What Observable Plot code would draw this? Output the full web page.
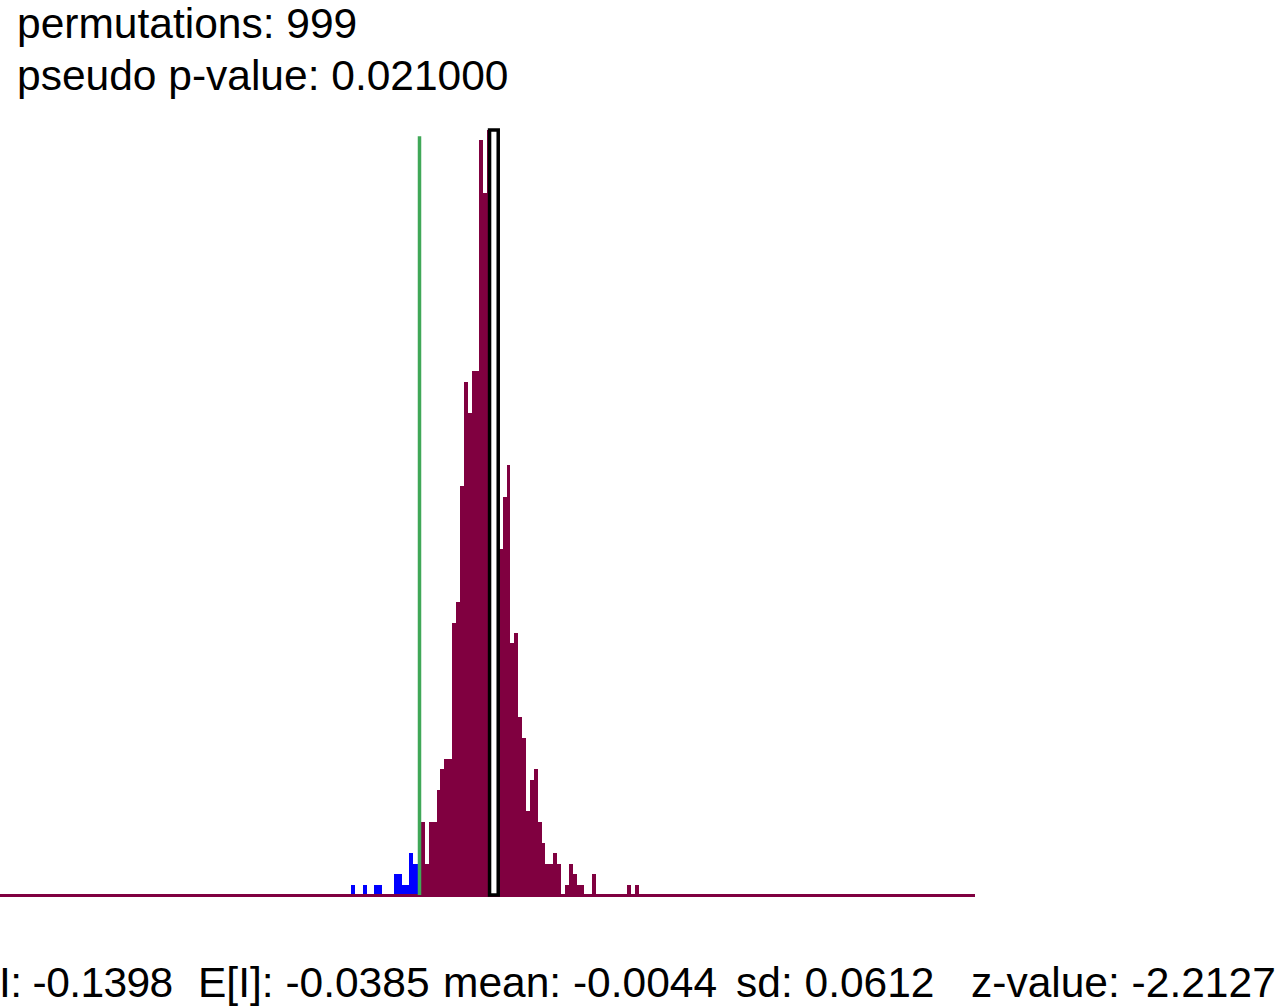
<!DOCTYPE html>
<html>
<head>
<meta charset="utf-8">
<script src="https://cdn.jsdelivr.net/npm/d3@7"></script>
<script src="https://cdn.jsdelivr.net/npm/@observablehq/plot@0.6"></script>
<style>
  html, body { margin: 0; padding: 0; background: #ffffff; }
  #wrap { position: relative; width: 1280px; height: 1007px; overflow: hidden; background: #fff; }
  .t { position: absolute; font-family: "Liberation Sans", Arial, sans-serif; font-size: 42.5px; line-height: 42px; color: #000; white-space: pre; }
  #chart { position: absolute; left: 0; top: 0; }
</style>
</head>
<body>
<div id="wrap">
  <div id="chart"></div>
</div>
<script>
// ---- data ----
const headerLines = ["permutations: 999", "pseudo p-value: 0.021000"];
const statLabels = ["I: -0.1398", "E[I]: -0.0385", "mean: -0.0044", "sd: 0.0612", "z-value: -2.2127"];

const observedI = -0.1398;          // green line
const binWidth = 0.007;
const firstBinStart = -0.2623;      // left edge of the first bin
// permutation counts per bin (74 bins)
const counts = [
  1, 0, 0, 1, 0, 0, 1, 1, 0, 0,
  0, 2, 2, 1, 1, 4, 3, 3, 7, 3,
  7, 7, 10, 12, 13, 13, 26, 28, 39, 49,
  46, 50, 50, 72, 67, 73, 73, 73, 33, 38,
  41, 24, 25, 17, 15, 8, 11, 12, 7, 5,
  3, 3, 4, 3, 0, 1, 3, 2, 1, 1,
  0, 0, 2, 0, 0, 0, 0, 0, 0, 0,
  0, 1, 0, 1
];
const highlightBins = [35, 36, 37];  // outlined white box
const greenLineTop = 72.4;
const xDomain = [-0.894, 0.861];
const yDomain = [0, 73];

const maroon = "#800040";
const blue = "#0000ff";
const green = "#40a858";

// ---- build ----
const bins = counts.map((c, i) => ({
  x0: firstBinStart + i * binWidth,
  x1: firstBinStart + (i + 1) * binWidth,
  count: c
}));
const hb = highlightBins.map(i => bins[i]);
const box = [{ x0: hb[0].x0, x1: hb[hb.length - 1].x1, count: d3.max(hb, d => d.count) }];

const chart = Plot.plot({
  width: 1280,
  height: 940,
  marginLeft: 0,
  marginRight: 305,
  marginTop: 130,
  marginBottom: 45,
  x: { domain: xDomain, axis: null },
  y: { domain: yDomain, axis: null },
  style: { background: "transparent" },
  marks: [
    Plot.rectY(bins.filter(d => d.count > 0), {
      x1: "x0", x2: "x1", y1: 0, y2: "count",
      fill: d => (d.x0 <= observedI ? blue : maroon),
      insetLeft: 0, insetRight: 0,
      shapeRendering: "crispEdges"
    }),
    Plot.ruleY([0], { stroke: maroon, strokeWidth: 3 }),
    Plot.rect(box, {
      x1: "x0", x2: "x1", y1: 0, y2: "count",
      fill: "white", stroke: "black", strokeWidth: 3.5,
      insetLeft: 2.5, insetRight: 0.5
    }),
    Plot.ruleX([observedI], { y1: 0, y2: greenLineTop, stroke: green, strokeWidth: 3.5 })
  ]
});
document.getElementById("chart").appendChild(chart);

// ---- texts ----
const wrap = document.getElementById("wrap");
const headerPos = [[17, 3], [17, 55]];
headerLines.forEach((s, i) => {
  const d = document.createElement("div");
  d.className = "t";
  d.textContent = s;
  d.style.left = headerPos[i][0] + "px";
  d.style.top = headerPos[i][1] + "px";
  wrap.appendChild(d);
});
const statLeft = [-1, 198, 443, 736, 971];
statLabels.forEach((s, i) => {
  const d = document.createElement("div");
  d.className = "t";
  d.textContent = s;
  d.style.left = statLeft[i] + "px";
  d.style.top = "962px";
  if (i === 0) d.style.letterSpacing = "-0.6px";
  wrap.appendChild(d);
});
</script>
</body>
</html>
